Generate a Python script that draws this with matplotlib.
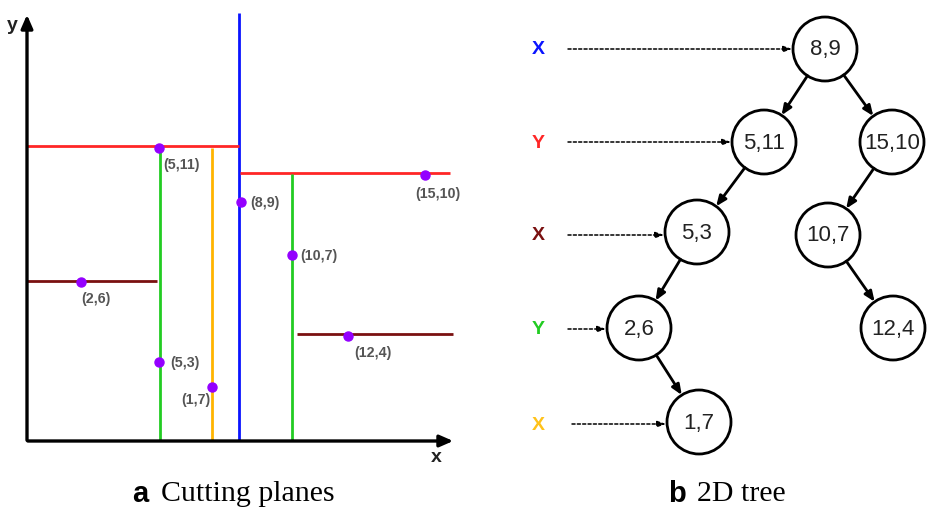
import numpy as np
import matplotlib
matplotlib.use("Agg")
from matplotlib import pyplot as plt
from matplotlib.patches import Circle

plt.rcParams['font.family'] = ['Liberation Sans', 'DejaVu Sans']

# points of panel a (label, diagram position in px)
pt_labels = ['(8,9)', '(5,11)', '(15,10)', '(5,3)', '(10,7)', '(2,6)', '(12,4)', '(1,7)']
pt_x = [241, 159, 425, 159, 292, 81, 348, 212]
pt_y = [202, 148, 175, 362, 255, 282, 336, 387]
lab_dx = [9, 4, -10, 11, 8, 0, 6, -1]
lab_dy = [0, 16, 18, 0, 0, 16, 16, 12]
lab_ha = ['left', 'left', 'left', 'left', 'left', 'left', 'left', 'right']

# cutting planes: x0, y0, x1, y1, colour
cut_x0 = [239, 27, 240, 160, 212, 292, 27, 297]
cut_y0 = [13, 146, 173, 148, 148, 174, 281, 334]
cut_x1 = [239, 239, 450, 160, 212, 292, 157, 453]
cut_y1 = [441, 146, 173, 441, 441, 441, 281, 334]
cut_col = ['#0a14ff', '#ff2626', '#ff2626', '#22cc22', '#ffb400', '#22cc22', '#7a1010', '#7a1010']

# tree of panel b
node_labels = ['8,9', '5,11', '15,10', '5,3', '10,7', '2,6', '12,4', '1,7']
node_parent = [-1, 0, 0, 1, 2, 3, 4, 5]
node_x = [825, 764, 892, 697, 828, 639, 893, 699]
node_y = [49, 142, 142, 232, 235, 328, 328, 422]

level_labels = ['X', 'Y', 'X', 'Y', 'X']
level_colors = ['#0a14ff', '#ff2626', '#7a1010', '#22cc22', '#ffc21a']
level_y = [49, 142, 235, 329, 424]
level_node = [0, 1, 3, 5, 7]
level_start = [568, 568, 568, 568, 572]

R = 32

fig = plt.figure(figsize=(9.28, 5.08), dpi=100)
ax = fig.add_axes([0, 0, 1, 1])
ax.set_xlim(0, 928)
ax.set_ylim(508, 0)
ax.axis('off')

# panel a axes
ax.annotate('', xy=(27, 12), xytext=(27, 443),
            arrowprops=dict(arrowstyle='-|>,head_length=0.8,head_width=0.35', lw=2.4, color='black'))
ax.annotate('', xy=(456, 441), xytext=(25, 441),
            arrowprops=dict(arrowstyle='-|>,head_length=0.8,head_width=0.35', lw=2.4, color='black'))
ax.text(12, 26, 'y', fontsize=14, fontweight='bold', ha='center', va='center', color='#222222')
ax.text(436, 458, 'x', fontsize=14, fontweight='bold', ha='center', va='center', color='#222222')

for i in range(len(cut_x0)):
    ax.plot([cut_x0[i], cut_x1[i]], [cut_y0[i], cut_y1[i]], color=cut_col[i], lw=2.0,
            solid_capstyle='butt', zorder=2)

ax.plot(pt_x, pt_y, 'o', color='#9400ff', markersize=6.5, zorder=4, linestyle='none')
for i in range(len(pt_labels)):
    ax.text(pt_x[i] + lab_dx[i], pt_y[i] + lab_dy[i] + 1, pt_labels[i], fontsize=10.3,
            fontweight='bold', color='#555555', ha=lab_ha[i], va='center')

# panel b tree
for i in range(len(node_labels)):
    ax.add_patch(Circle((node_x[i], node_y[i]), R, facecolor='white', edgecolor='black', lw=2.0, zorder=3))
    ax.text(node_x[i], node_y[i] + 1, node_labels[i], fontsize=16, ha='center', va='center',
            color='#222222', zorder=4)
    p = node_parent[i]
    if p >= 0:
        ax.annotate('', xy=(node_x[i], node_y[i]), xytext=(node_x[p], node_y[p]),
                    arrowprops=dict(arrowstyle='-|>,head_length=0.6,head_width=0.25', lw=2.0,
                                    color='black', shrinkA=R * 0.72, shrinkB=R * 0.72))

for i in range(len(level_labels)):
    ax.text(538, level_y[i] + 1, level_labels[i], fontsize=14, color=level_colors[i],
            ha='center', va='center', fontweight='bold')
    n = level_node[i]
    ax.annotate('', xy=(node_x[n] - R - 1, level_y[i]), xytext=(level_start[i], level_y[i]),
                arrowprops=dict(arrowstyle='-|>,head_length=0.5,head_width=0.18', lw=1.1,
                                linestyle=(0, (2, 1.5)), color='black', shrinkA=0, shrinkB=0))

# captions
ax.text(140, 494, 'a', fontsize=21, fontweight='bold', ha='center', va='center')
ax.text(161, 494, 'Cutting planes', fontsize=21.5, family='Liberation Serif', ha='left', va='center')
ax.text(677, 494, 'b', fontsize=21, fontweight='bold', ha='center', va='center')
ax.text(697, 494, '2D tree', fontsize=21.5, family='Liberation Serif', ha='left', va='center')

fig.savefig('out.png', dpi=100)
